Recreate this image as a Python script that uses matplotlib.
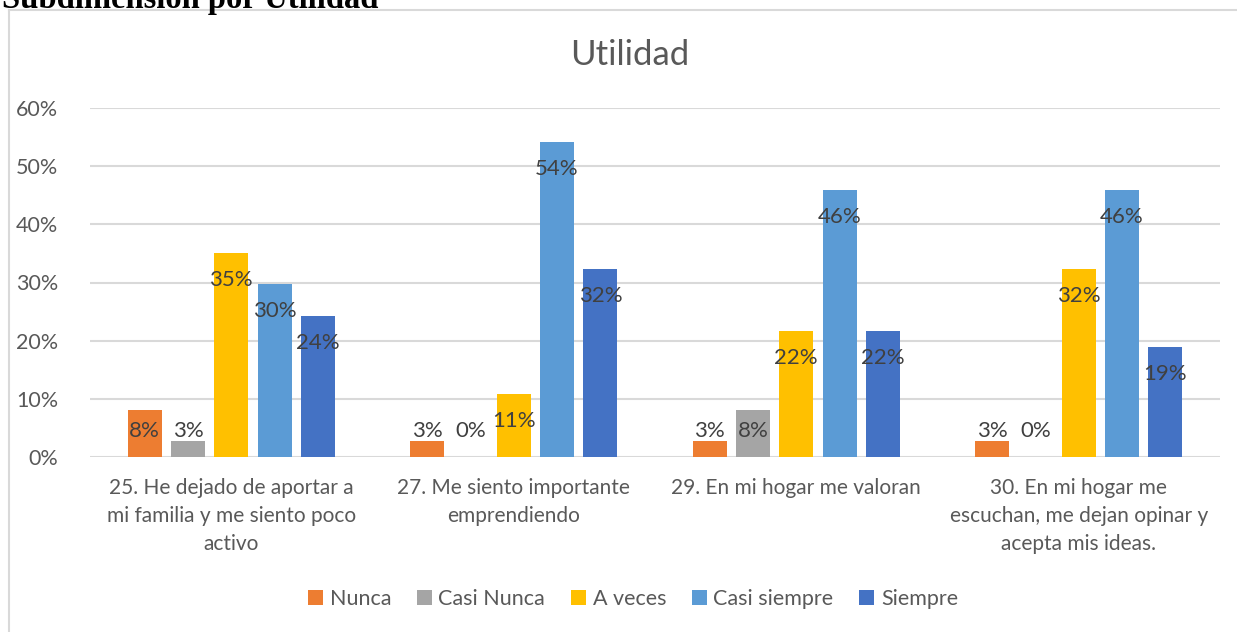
import matplotlib.pyplot as plt
from matplotlib.lines import Line2D
from matplotlib.ticker import PercentFormatter
import numpy as np

categories = [
    "25. He dejado de aportar a\nmi familia y me siento poco\nactivo",
    "27. Me siento importante\nemprendiendo",
    "29. En mi hogar me valoran",
    "30. En mi hogar me\nescuchan, me dejan opinar y\nacepta mis ideas.",
]
series = ["Nunca", "Casi Nunca", "A veces", "Casi siempre", "Siempre"]
nunca = [0.081, 0.027, 0.027, 0.027]
casi_nunca = [0.027, 0.0, 0.081, 0.0]
a_veces = [0.351, 0.108, 0.216, 0.324]
casi_siempre = [0.297, 0.541, 0.459, 0.459]
siempre = [0.243, 0.324, 0.216, 0.189]
colors = ["#ED7D31", "#A5A5A5", "#FFC000", "#5B9BD5", "#4472C4"]

W, H = 1237, 632
DPI = 100
plt.rcParams['font.family'] = ['Lato', 'DejaVu Sans']
txt = '#595959'

fig = plt.figure(figsize=(W / DPI, H / DPI), dpi=DPI)
ax = fig.add_axes([90 / W, 1 - 457 / H, (1220 - 90) / W, (457 - 108) / H])

x = np.arange(len(categories))
width = 0.1204
step = 0.1533
px_per_unit = (457 - 108) / 0.6
pt = 72 / DPI  # points per pixel

for i, (name, vals) in enumerate(zip(series, [nunca, casi_nunca, a_veces, casi_siempre, siempre])):
    xs = x + (i - 2) * step
    ax.bar(xs, vals, width, color=colors[i], label=name, zorder=3)
    for xi, v in zip(xs, vals):
        # Excel "inside end" labels, clamped so they never drop below the axis
        top_px = v * px_per_unit
        center_px = max(top_px - 27, 26)
        ax.annotate(f"{v * 100:.0f}%", (xi, 0), xytext=(0, center_px * pt),
                    textcoords='offset points', ha='center', va='center',
                    fontsize=16, color='#404040', zorder=4)

ax.set_xlim(-0.5, len(categories) - 0.5)
ax.set_ylim(0, 0.6)
ax.set_yticks(np.arange(0, 0.61, 0.1))
ax.yaxis.set_major_formatter(PercentFormatter(1.0, decimals=0))
ax.set_xticks(x)
ax.set_xticklabels(categories, fontsize=15, color=txt, linespacing=1.5)
ax.tick_params(axis='y', labelsize=15.5, labelcolor=txt, length=0, pad=23)
ax.tick_params(axis='x', length=0, pad=15)
ax.grid(axis='y', color='#D9D9D9', linewidth=1.5, zorder=0)
for s in ax.spines.values():
    s.set_visible(False)

ax.set_title("Utilidad", fontsize=25, color=txt, x=(630 - 90) / (1220 - 90), y=1.0, pad=31)

ax.legend(loc='center', bbox_to_anchor=(633 / W, 1 - 599 / H), bbox_transform=fig.transFigure,
          ncol=5, frameon=False, fontsize=15.5, labelcolor=txt, handlelength=0.7, handleheight=0.7,
          handletextpad=0.3, columnspacing=1.2)

# outer chart frame (runs off the right and bottom of the image)
fig.add_artist(Line2D([8.5 / W, 1.0], [1 - 9.5 / H, 1 - 9.5 / H], transform=fig.transFigure,
                      color='#D9D9D9', linewidth=1.5))
fig.add_artist(Line2D([8.5 / W, 8.5 / W], [0, 1 - 9.5 / H], transform=fig.transFigure,
                      color='#D9D9D9', linewidth=1.5))

# heading of the document, cut off by the top edge
fig.text(2 / W, 1 - 8 / H, "Subdimensión por Utilidad", fontsize=23.5, fontweight='bold',
         family='Liberation Serif', color='black', va='baseline', ha='left')

fig.savefig("out.png", dpi=DPI)
